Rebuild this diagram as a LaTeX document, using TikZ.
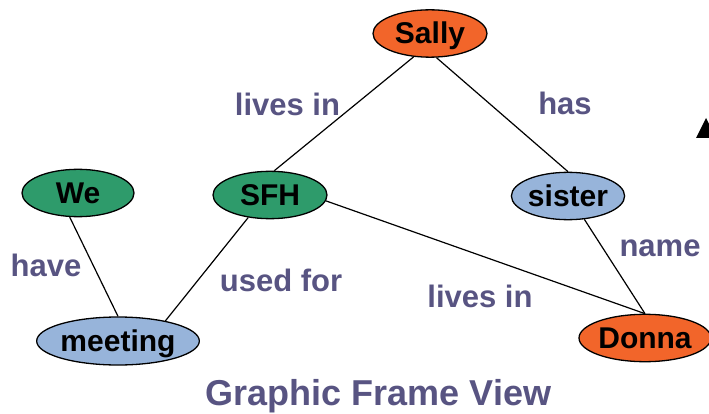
\documentclass[tikz,border=0pt]{standalone}
\usepackage{fontspec}
\setmainfont{Liberation Sans}
\usetikzlibrary{shapes.geometric}
\definecolor{orgfill}{HTML}{F2652A}
\definecolor{grnfill}{HTML}{2E9B6B}
\definecolor{blufill}{HTML}{97B4DA}
\definecolor{labcol}{HTML}{585482}
\begin{document}
\begin{tikzpicture}[x=1pt,y=-1pt,
  ent/.style={ellipse,draw=black,line width=1.3pt,inner sep=0pt,
    text height=27.1pt,text depth=6.4pt,
    font=\fontsize{30}{32}\selectfont\bfseries},
  rel/.style={font=\fontsize{31}{34}\selectfont\bfseries,text=labcol,inner sep=0pt},
  conn/.style={line width=1.2pt}]
\useasboundingbox (0,0) rectangle (709,414);
% entities
\node[ent,fill=orgfill,minimum width=114pt,minimum height=44pt] (Sally) at (430,33.5) {Sally};
\node[ent,fill=grnfill,minimum width=112pt,minimum height=46pt] (We) at (78,193) {We};
\node[ent,fill=grnfill,minimum width=114pt,minimum height=46pt] (SFH) at (270,195) {SFH};
\node[ent,fill=blufill,minimum width=102pt,minimum height=46pt] (sister) at (568,196) {sister};
\node[ent,fill=blufill,minimum width=160pt,minimum height=48pt] (meeting) at (118,341) {meeting};
\node[ent,fill=orgfill,minimum width=128pt,minimum height=46pt] (Donna) at (645,338) {Donna};
% connectors
\draw[conn] (Sally.235) -- (SFH.80);
\draw[conn] (Sally.285) -- (sister.north);
\draw[conn] (We.-109) -- (meeting.north);
\draw[conn] (meeting.23) -- (SFH.226);
\draw[conn] (SFH.-6) -- (Donna.north);
\draw[conn] (sister.-55) -- (Donna.north);
% labels
\node[rel] (l1) at (287.5,104) {lives in};
\node[rel] (l2) at (565,103) {has};
\node[rel] (l3) at (46,265) {have};
\node[rel] (l4) at (281,280) {used for};
\node[rel] (l5) at (660,248) {name};
\node[rel] (l6) at (480,296) {lives in};
\node[font=\fontsize{36}{40}\selectfont\bfseries,text=labcol,inner sep=0pt,anchor=base] (title) at (378.5,405.5) {Graphic Frame View};
% partial arrowhead at the right edge
\fill (696,138) -- (706,118) -- (716,138) -- cycle;
\end{tikzpicture}
\end{document}
